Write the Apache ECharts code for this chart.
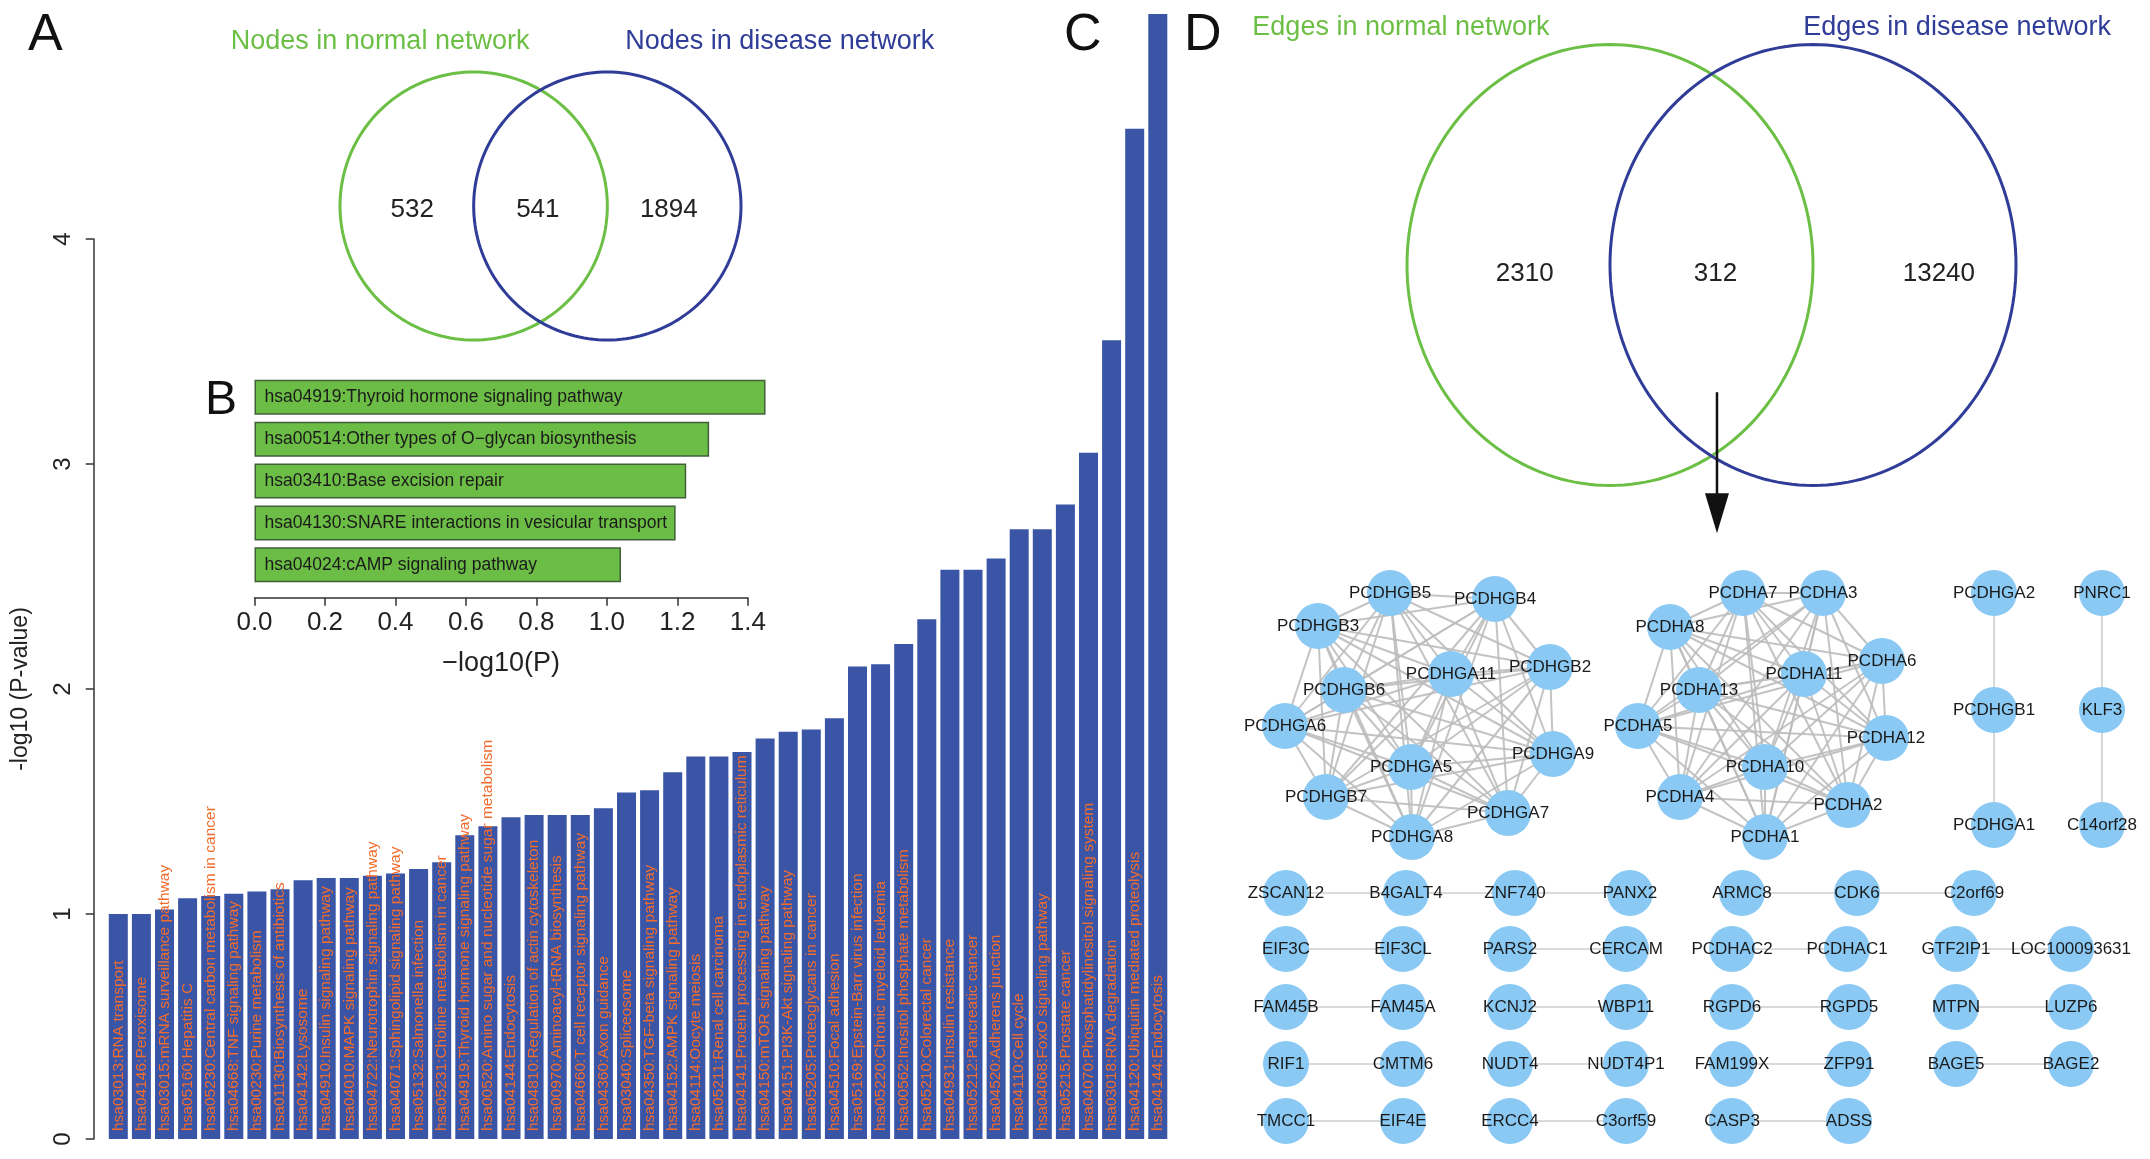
<!DOCTYPE html>
<html><head><meta charset="utf-8">
<script src="https://cdn.jsdelivr.net/npm/echarts@6/dist/echarts.min.js"></script>
<style>html,body{margin:0;padding:0;background:#fff}#c{width:2150px;height:1159px}</style>
</head><body><div id="c"></div>
<script>
const FONT = '"Liberation Sans", Arial, Helvetica, sans-serif';

// ---------- Panel A: KEGG pathways of disease network ----------
const pathwaysA = [
  "hsa03013:RNA transport",
  "hsa04146:Peroxisome",
  "hsa03015:mRNA surveillance pathway",
  "hsa05160:Hepatitis C",
  "hsa05230:Central carbon metabolism in cancer",
  "hsa04668:TNF signaling pathway",
  "hsa00230:Purine metabolism",
  "hsa01130:Biosynthesis of antibiotics",
  "hsa04142:Lysosome",
  "hsa04910:Insulin signaling pathway",
  "hsa04010:MAPK signaling pathway",
  "hsa04722:Neurotrophin signaling pathway",
  "hsa04071:Sphingolipid signaling pathway",
  "hsa05132:Salmonella infection",
  "hsa05231:Choline metabolism in cancer",
  "hsa04919:Thyroid hormone signaling pathway",
  "hsa00520:Amino sugar and nucleotide sugar metabolism",
  "hsa04144:Endocytosis",
  "hsa04810:Regulation of actin cytoskeleton",
  "hsa00970:Aminoacyl-tRNA biosynthesis",
  "hsa04660:T cell receptor signaling pathway",
  "hsa04360:Axon guidance",
  "hsa03040:Spliceosome",
  "hsa04350:TGF-beta signaling pathway",
  "hsa04152:AMPK signaling pathway",
  "hsa04114:Oocyte meiosis",
  "hsa05211:Renal cell carcinoma",
  "hsa04141:Protein processing in endoplasmic reticulum",
  "hsa04150:mTOR signaling pathway",
  "hsa04151:PI3K-Akt signaling pathway",
  "hsa05205:Proteoglycans in cancer",
  "hsa04510:Focal adhesion",
  "hsa05169:Epstein-Barr virus infection",
  "hsa05220:Chronic myeloid leukemia",
  "hsa00562:Inositol phosphate metabolism",
  "hsa05210:Colorectal cancer",
  "hsa04931:Insulin resistance",
  "hsa05212:Pancreatic cancer",
  "hsa04520:Adherens junction",
  "hsa04110:Cell cycle",
  "hsa04068:FoxO signaling pathway",
  "hsa05215:Prostate cancer",
  "hsa04070:Phosphatidylinositol signaling system",
  "hsa03018:RNA degradation",
  "hsa04120:Ubiquitin mediated proteolysis",
  "hsa04144:Endocytosis "
];
const valuesA = [
  1.00, 1.00, 1.02, 1.07, 1.08, 1.09, 1.10, 1.11, 1.15, 1.16,
  1.16, 1.17, 1.18, 1.20, 1.23, 1.35, 1.39, 1.43, 1.44, 1.44,
  1.44, 1.47, 1.54, 1.55, 1.63, 1.70, 1.70, 1.72, 1.78, 1.81,
  1.82, 1.87, 2.10, 2.11, 2.20, 2.31, 2.53, 2.53, 2.58, 2.71,
  2.71, 2.82, 3.05, 3.55, 4.49, 5.00
];
const ticksA = [0, 1, 2, 3, 4];

// ---------- Panel B ----------
const pathwaysB = [
  "hsa04919:Thyroid hormone signaling pathway",
  "hsa00514:Other types of O\u2212glycan biosynthesis",
  "hsa03410:Base excision repair",
  "hsa04130:SNARE interactions in vesicular transport",
  "hsa04024:cAMP signaling pathway"
];
const valuesB = [1.45, 1.29, 1.225, 1.195, 1.04];
const ticksB = [0, 0.2, 0.4, 0.6, 0.8, 1.0, 1.2, 1.4];

// ---------- Panel C / D: Venn diagrams ----------
const nodeSets = ["Nodes in normal network", "Nodes in disease network"];
const nodeCounts = [532, 541, 1894];
const edgeSets = ["Edges in normal network", "Edges in disease network"];
const edgeCounts = [2310, 312, 13240];
const setColors = ["#6cbf45", "#2f3c98"];

// ---------- Panel D: shared-edge network ----------
const clusterG = ["PCDHGB5","PCDHGB4","PCDHGB3","PCDHGA11","PCDHGB2","PCDHGB6",
                  "PCDHGA6","PCDHGA9","PCDHGA5","PCDHGB7","PCDHGA7","PCDHGA8"];
const clusterA = ["PCDHA7","PCDHA3","PCDHA8","PCDHA6","PCDHA11","PCDHA13",
                  "PCDHA5","PCDHA12","PCDHA10","PCDHA4","PCDHA2","PCDHA1"];
const chains = [
  ["PCDHGA2","PCDHGB1","PCDHGA1"], ["PNRC1","KLF3","C14orf28"],
  ["ZSCAN12","B4GALT4","ZNF740","PANX2"], ["ARMC8","CDK6","C2orf69"],
  ["EIF3C","EIF3CL"], ["PARS2","CERCAM"], ["PCDHAC2","PCDHAC1"], ["GTF2IP1","LOC100093631"],
  ["FAM45B","FAM45A"], ["KCNJ2","WBP11"], ["RGPD6","RGPD5"], ["MTPN","LUZP6"],
  ["RIF1","CMTM6"], ["NUDT4","NUDT4P1"], ["FAM199X","ZFP91"], ["BAGE5","BAGE2"],
  ["TMCC1","EIF4E"], ["ERCC4","C3orf59"], ["CASP3","ADSS"]
];
// node layout positions (network layout units)
const nodeLayout = [
  ["PCDHGB5",150,33],["PCDHGB4",255,39],["PCDHGB3",78,66],["PCDHGA11",211,114],
  ["PCDHGB2",310,107],["PCDHGB6",104,130],["PCDHGA6",45,166],["PCDHGA9",313,194],
  ["PCDHGA5",171,207],["PCDHGB7",86,237],["PCDHGA7",268,253],["PCDHGA8",172,277],
  ["PCDHA7",503,33],["PCDHA3",583,33],["PCDHA8",430,67],["PCDHA6",642,101],
  ["PCDHA11",564,114],["PCDHA13",459,130],["PCDHA5",398,166],["PCDHA12",646,178],
  ["PCDHA10",525,207],["PCDHA4",440,237],["PCDHA2",608,245],["PCDHA1",525,277],
  ["PCDHGA2",754,33],["PCDHGB1",754,150],["PCDHGA1",754,265],
  ["PNRC1",862,33],["KLF3",862,150],["C14orf28",862,265],
  ["ZSCAN12",46,333],["B4GALT4",166,333],["ZNF740",275,333],["PANX2",390,333],
  ["ARMC8",502,333],["CDK6",617,333],["C2orf69",734,333],
  ["EIF3C",46,389],["EIF3CL",163,389],["PARS2",270,389],["CERCAM",386,389],
  ["PCDHAC2",492,389],["PCDHAC1",607,389],["GTF2IP1",716,389],["LOC100093631",831,389],
  ["FAM45B",46,447],["FAM45A",163,447],["KCNJ2",270,447],["WBP11",386,447],
  ["RGPD6",492,447],["RGPD5",609,447],["MTPN",716,447],["LUZP6",831,447],
  ["RIF1",46,504],["CMTM6",163,504],["NUDT4",270,504],["NUDT4P1",386,504],
  ["FAM199X",492,504],["ZFP91",609,504],["BAGE5",716,504],["BAGE2",831,504],
  ["TMCC1",46,561],["EIF4E",163,561],["ERCC4",270,561],["C3orf59",386,561],
  ["CASP3",492,561],["ADSS",609,561]
];

// ---------- build ----------
function completeLinks(list){
  const out=[];
  for(let i=0;i<list.length;i++) for(let j=i+1;j<list.length;j++) out.push({source:list[i],target:list[j]});
  return out;
}
const links = [].concat(completeLinks(clusterG), completeLinks(clusterA));
chains.forEach(ch=>{ for(let i=0;i<ch.length-1;i++) links.push({source:ch[i],target:ch[i+1], lineStyle:{width:1.6,color:'#c8c8c8'}}); });

function ellipsePts(cx, cy, rx, ry){
  const pts=[]; for(let k=0;k<180;k++){const t=k/180*Math.PI*2; pts.push([cx+rx*Math.cos(t), cy+ry*Math.sin(t)]);} return pts;
}
function circleSeries(gi, circles){
  return {type:'custom', xAxisIndex:gi, yAxisIndex:gi, silent:true, data:circles,
    renderItem(params, api){
      const c = api.coord([api.value(0), api.value(1)]);
      const s = api.size([api.value(2), api.value(3)]);
      return {type:'polygon', shape:{points: ellipsePts(c[0], c[1], s[0], s[1])},
        style:{fill:'none', stroke:setColors[api.value(4)], lineWidth:3}};
    }};
}
function textSeries(gi, items, size, colorFn){
  return {type:'custom', xAxisIndex:gi, yAxisIndex:gi, silent:true, data:items,
    renderItem(params, api){
      const c = api.coord([api.value(0), api.value(1)]);
      const it = items[params.dataIndex];
      return {type:'text', x:c[0], y:c[1], style:{text:String(it[2]), fill:colorFn(params.dataIndex),
        font: size+'px '+FONT, align:'center', verticalAlign:'middle', textAlign:'center', textVerticalAlign:'middle'}};
    }};
}

const option = {
  backgroundColor:'#fff',
  animation:false,
  grid:[
    {left:106.75, top:239, width:1062.6, height:900},
    {left:254.5, top:376.3, width:493.4, height:209.5},
    {left:340, top:72, width:401, height:268},
    {left:1407, top:53, width:609, height:424},
    {left:1240, top:560, width:910, height:599}
  ],
  xAxis:[
    {gridIndex:0, type:'category', data:pathwaysA, show:false},
    {gridIndex:1, type:'value', min:ticksB[0], max:ticksB[ticksB.length-1], interval:0.2, offset:12,
      axisLine:{show:true, lineStyle:{color:'#333', width:1.5}},
      axisTick:{show:true, length:8, lineStyle:{color:'#333', width:1.5}},
      axisLabel:{fontSize:26, color:'#222', fontFamily:FONT, margin:12, formatter:v=>v.toFixed(1)},
      splitLine:{show:false},
      name:'\u2212log10(P)', nameLocation:'middle', nameGap:52,
      nameTextStyle:{fontSize:27, color:'#222', fontFamily:FONT}},
    {gridIndex:2, type:'value', min:-1, max:2, show:false},
    {gridIndex:3, type:'value', min:-1, max:2, show:false},
    {gridIndex:4, type:'value', min:0, max:910, show:false}
  ],
  yAxis:[
    {gridIndex:0, type:'value', min:ticksA[0], max:ticksA[ticksA.length-1], interval:1, offset:13,
      axisLine:{show:true, lineStyle:{color:'#333', width:1.5}},
      axisTick:{show:true, length:8, lineStyle:{color:'#333', width:1.5}},
      axisLabel:{fontSize:24, color:'#222', fontFamily:FONT, rotate:90, margin:18},
      splitLine:{show:false},
      name:'-log10 (P-value)', nameLocation:'middle', nameRotate:90, nameGap:62,
      nameTextStyle:{fontSize:23, color:'#222', fontFamily:FONT}},
    {gridIndex:1, type:'category', data:pathwaysB, inverse:true, show:false},
    {gridIndex:2, type:'value', min:-1, max:1, show:false},
    {gridIndex:3, type:'value', min:-1, max:1, show:false},
    {gridIndex:4, type:'value', min:0, max:599, inverse:true, show:false}
  ],
  graphic:[
    {type:'text', left:28, top:10, style:{text:'A', font:'52px '+FONT, fill:'#111'}},
    {type:'text', left:205, top:377, style:{text:'B', font:'48px '+FONT, fill:'#111'}},
    {type:'text', left:1064, top:10, style:{text:'C', font:'52px '+FONT, fill:'#111'}},
    {type:'text', left:1184, top:10, style:{text:'D', font:'52px '+FONT, fill:'#111'}}
  ],
  series:[
    {type:'bar', xAxisIndex:0, yAxisIndex:0, data:valuesA, barWidth:19, clip:false,
      itemStyle:{color:'#3a54a6'},
      label:{show:true, position:'insideBottom', rotate:90, align:'left', verticalAlign:'middle',
        distance:8, formatter:'{b}', color:'#f26d2d', fontSize:15.5, fontFamily:FONT}},
    {type:'bar', xAxisIndex:1, yAxisIndex:1, data:valuesB, barWidth:35, clip:false,
      itemStyle:{color:'#6cbd45', borderColor:'#40603a', borderWidth:1.5},
      label:{show:true, position:'insideLeft', distance:10, formatter:'{b}', color:'#1a1a1a', fontSize:17.5, fontFamily:FONT}},
    circleSeries(2, [[0,0,1,1,0],[1,0,1,1,1]]),
    textSeries(2, [[-0.46,-0.03,nodeCounts[0]],[0.48,-0.03,nodeCounts[1]],[1.46,-0.03,nodeCounts[2]]], 26, ()=>'#222'),
    textSeries(2, [[-0.7,1.23,nodeSets[0]],[2.29,1.23,nodeSets[1]]], 27, i=>setColors[i]),
    circleSeries(3, [[0,0,1,1.04,0],[1,0,1,1.04,1]]),
    textSeries(3, [[-0.42,-0.04,edgeCounts[0]],[0.52,-0.04,edgeCounts[1]],[1.62,-0.04,edgeCounts[2]]], 26, ()=>'#222'),
    textSeries(3, [[-1.03,1.12,edgeSets[0]],[1.71,1.12,edgeSets[1]]], 27, i=>setColors[i]),
    {type:'custom', xAxisIndex:3, yAxisIndex:3, silent:true, data:[[0.527,-0.6,-1.265]],
      renderItem(params, api){
        const a = api.coord([api.value(0), api.value(1)]);
        const b = api.coord([api.value(0), api.value(2)]);
        return {type:'group', children:[
          {type:'line', shape:{x1:a[0], y1:a[1], x2:b[0], y2:b[1]-30}, style:{stroke:'#111', lineWidth:2.5}},
          {type:'polygon', shape:{points:[[b[0]-12,b[1]-40],[b[0]+12,b[1]-40],[b[0],b[1]]]}, style:{fill:'#111'}}
        ]};
      }},
    {type:'graph', coordinateSystem:'cartesian2d', xAxisIndex:4, yAxisIndex:4, layout:'none',
      symbol:'circle', symbolSize:46,
      data: nodeLayout.map(n=>({name:n[0], value:[n[1], n[2]]})),
      links: links,
      itemStyle:{color:'#89c9f3'},
      lineStyle:{color:'#bcbcbc', width:2, opacity:0.9},
      label:{show:true, position:'inside', color:'#1a1a1a', fontSize:17, fontFamily:FONT},
      emphasis:{disabled:true}}
  ]
};
const chart = echarts.init(document.getElementById('c'));
chart.setOption(option);
</script>
</body></html>
